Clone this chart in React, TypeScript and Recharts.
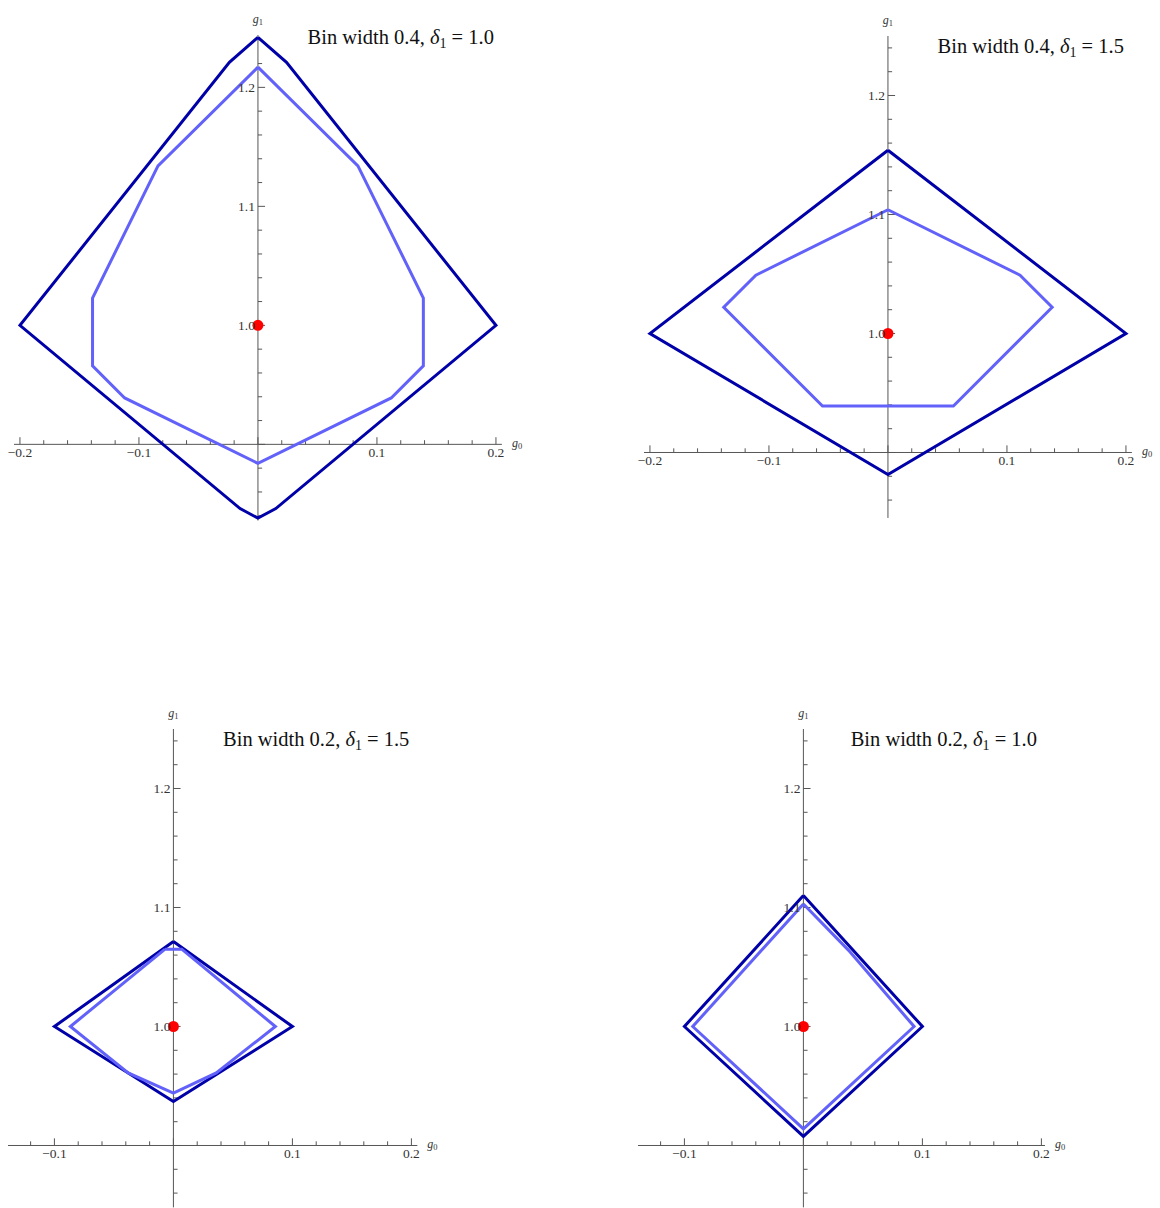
import React from "react";
import {
  ComposedChart,
  Line,
  Scatter,
  XAxis,
  YAxis,
  ReferenceLine,
  ReferenceDot,
} from "recharts";

// boundary polygons, [g0, g1] pairs
const outerW04D10 = [
  [0, 1.242], [0.024, 1.221], [0.2, 1.0], [0.015, 0.846], [0, 0.838],
  [-0.015, 0.846], [-0.2, 1.0], [-0.024, 1.221], [0, 1.242],
];
const innerW04D10 = [
  [0, 1.217], [0.084, 1.134], [0.139, 1.023], [0.139, 0.966], [0.112, 0.939],
  [0, 0.884], [-0.112, 0.939], [-0.139, 0.966], [-0.139, 1.023], [-0.084, 1.134],
  [0, 1.217],
];
const outerW04D15 = [[0, 1.154], [0.2, 1.0], [0, 0.8815], [-0.2, 1.0], [0, 1.154]];
const innerW04D15 = [
  [0, 1.104], [0.111, 1.049], [0.138, 1.022], [0.055, 0.939], [-0.055, 0.939],
  [-0.138, 1.022], [-0.111, 1.049], [0, 1.104],
];
const outerW02D15 = [[0, 1.0714], [0.1, 1.0], [0, 0.937], [-0.1, 1.0], [0, 1.0714]];
const innerW02D15 = [
  [-0.007, 1.065], [0.007, 1.065], [0.0857, 1.0], [0.036, 0.961], [0, 0.944],
  [-0.038, 0.961], [-0.0866, 1.0], [-0.007, 1.065],
];
const outerW02D10 = [[0, 1.11], [0.1, 1.0], [0, 0.9076], [-0.1, 1.0], [0, 1.11]];
const innerW02D10 = [
  [0, 1.103], [0.038, 1.064], [0.093, 1.0], [0, 0.914], [-0.093, 1.0], [0, 1.103],
];
const truePoint = [[0, 1.0]];

const xTickLabelsWide = [-0.2, -0.1, 0.1, 0.2];
const xTickLabelsNarrow = [-0.1, 0.1, 0.2];
const yTickLabels = [1.0, 1.1, 1.2];

const DARK = "#0000a8";
const LIGHT = "#6262fa";
const AXIS = "#555";
const K = 1190; // px per unit, same on both axes
const M = 40; // svg margin around the plot area
const AXIS_Y = 0.9;

const toPts = (arr: number[][]) => arr.map(([x, y]) => ({ x, y }));
const fmt = (v: number) => (v < 0 ? "\u2212" + Math.abs(v).toFixed(1) : v.toFixed(1));

type PanelProps = {
  originX: number;
  originY: number;
  xDomain: [number, number];
  yDomain: [number, number];
  outer: number[][];
  inner: number[][];
  xLabels: number[];
  width: string;
  delta: string;
  titleDy: number;
};

function Panel(p: PanelProps) {
  const [x0, x1] = p.xDomain;
  const [y0, y1] = p.yDomain;
  const w = (x1 - x0) * K + 2 * M;
  const h = (y1 - y0) * K + 2 * M;
  const left = p.originX + x0 * K - M;
  const top = p.originY - (y1 - 1) * K - M;

  const xTicks: number[] = [];
  for (let i = Math.ceil(x0 / 0.02 - 1e-6); i * 0.02 <= x1 + 1e-9; i++) xTicks.push(+(i * 0.02).toFixed(2));
  const yTicks: number[] = [];
  for (let i = Math.ceil(y0 / 0.02 - 1e-6); i * 0.02 <= y1 + 1e-9; i++) yTicks.push(+(i * 0.02).toFixed(2));
  const isMajor = (v: number) => Math.abs(v * 10 - Math.round(v * 10)) < 1e-6;

  return (
    <div style={{ position: "absolute", left, top }}>
      <ComposedChart width={w} height={h} margin={{ top: M, right: M, bottom: M, left: M }}>
        <XAxis type="number" dataKey="x" domain={p.xDomain} hide />
        <YAxis type="number" dataKey="y" domain={p.yDomain} hide />
        <ReferenceLine x={0} stroke={AXIS} strokeWidth={1} />
        <ReferenceLine y={AXIS_Y} stroke={AXIS} strokeWidth={1} />
        {xTicks.map((t) => (
          <ReferenceLine
            key={"xt" + t}
            segment={[{ x: t, y: AXIS_Y }, { x: t, y: AXIS_Y + (isMajor(t) ? 0.006 : 0.0035) }]}
            stroke={AXIS}
          />
        ))}
        {yTicks.map((t) => (
          <ReferenceLine
            key={"yt" + t}
            segment={[{ x: 0, y: t }, { x: isMajor(t) ? 0.006 : 0.0035, y: t }]}
            stroke={AXIS}
          />
        ))}
        {p.xLabels.map((t) => (
          <ReferenceDot
            key={"xl" + t}
            x={t}
            y={AXIS_Y}
            r={0}
            fill="none"
            stroke="none"
            label={{ value: fmt(t), position: "bottom", offset: 3, fontSize: 13.5, fill: "#333" }}
          />
        ))}
        {yTickLabels.map((t) => (
          <ReferenceDot
            key={"yl" + t}
            x={0}
            y={t}
            r={0}
            fill="none"
            stroke="none"
            label={{ value: fmt(t), position: "left", offset: 3, fontSize: 13.5, fill: "#333" }}
          />
        ))}
        <ReferenceDot
          x={0}
          y={y1}
          r={0}
          fill="none"
          stroke="none"
          label={(lp: any) => (
            <text x={lp.viewBox.x} y={lp.viewBox.y - 12} textAnchor="middle" fontSize={12} fill="#333" fontStyle="italic">
              g<tspan fontSize={8.5} fontStyle="normal" dy={2}>1</tspan>
            </text>
          )}
        />
        <ReferenceDot
          x={x1}
          y={AXIS_Y}
          r={0}
          fill="none"
          stroke="none"
          label={(lp: any) => (
            <text x={lp.viewBox.x + 10} y={lp.viewBox.y + 3} textAnchor="start" fontSize={12} fill="#333" fontStyle="italic">
              g<tspan fontSize={8.5} fontStyle="normal" dy={2}>0</tspan>
            </text>
          )}
        />
        <ReferenceDot
          x={x1}
          y={y1}
          r={0}
          fill="none"
          stroke="none"
          label={(lp: any) => (
            <text x={lp.viewBox.x - 8} y={lp.viewBox.y + p.titleDy} textAnchor="end" fontSize={20.5} fill="#111">
              {"Bin width " + p.width + ", "}
              <tspan fontStyle="italic">{"\u03b4"}</tspan>
              <tspan fontSize={14} dy={4}>1</tspan>
              <tspan dy={-4}>{" = " + p.delta}</tspan>
            </text>
          )}
        />
        <Line
          data={toPts(p.outer)}
          dataKey="y"
          type="linear"
          stroke={DARK}
          strokeWidth={3}
          dot={false}
          activeDot={false}
          isAnimationActive={false}
        />
        <Line
          data={toPts(p.inner)}
          dataKey="y"
          type="linear"
          stroke={LIGHT}
          strokeWidth={3}
          dot={false}
          activeDot={false}
          isAnimationActive={false}
        />
        <Scatter
          data={toPts(truePoint)}
          dataKey="y"
          isAnimationActive={false}
          shape={(sp: any) => <circle cx={sp.cx} cy={sp.cy} r={5.5} fill="#ff0000" />}
        />
      </ComposedChart>
    </div>
  );
}

export default function App() {
  return (
    <div
      style={{
        position: "absolute",
        left: 0,
        top: 0,
        width: 1160,
        height: 1208,
        background: "#fff",
        fontFamily: "'Liberation Serif', 'Times New Roman', serif",
        overflow: "hidden",
      }}
    >
      <Panel originX={258} originY={325} xDomain={[-0.205, 0.205]} yDomain={[0.836, 1.244]}
        outer={outerW04D10} inner={innerW04D10} xLabels={xTickLabelsWide} width="0.4" delta="1.0" titleDy={9} />
      <Panel originX={888} originY={333} xDomain={[-0.205, 0.205]} yDomain={[0.845, 1.25]}
        outer={outerW04D15} inner={innerW04D15} xLabels={xTickLabelsWide} width="0.4" delta="1.5" titleDy={17} />
      <Panel originX={173} originY={1026} xDomain={[-0.139, 0.205]} yDomain={[0.848, 1.25]}
        outer={outerW02D15} inner={innerW02D15} xLabels={xTickLabelsNarrow} width="0.2" delta="1.5" titleDy={17} />
      <Panel originX={803} originY={1026} xDomain={[-0.139, 0.203]} yDomain={[0.848, 1.25]}
        outer={outerW02D10} inner={innerW02D10} xLabels={xTickLabelsNarrow} width="0.2" delta="1.0" titleDy={17} />
    </div>
  );
}
